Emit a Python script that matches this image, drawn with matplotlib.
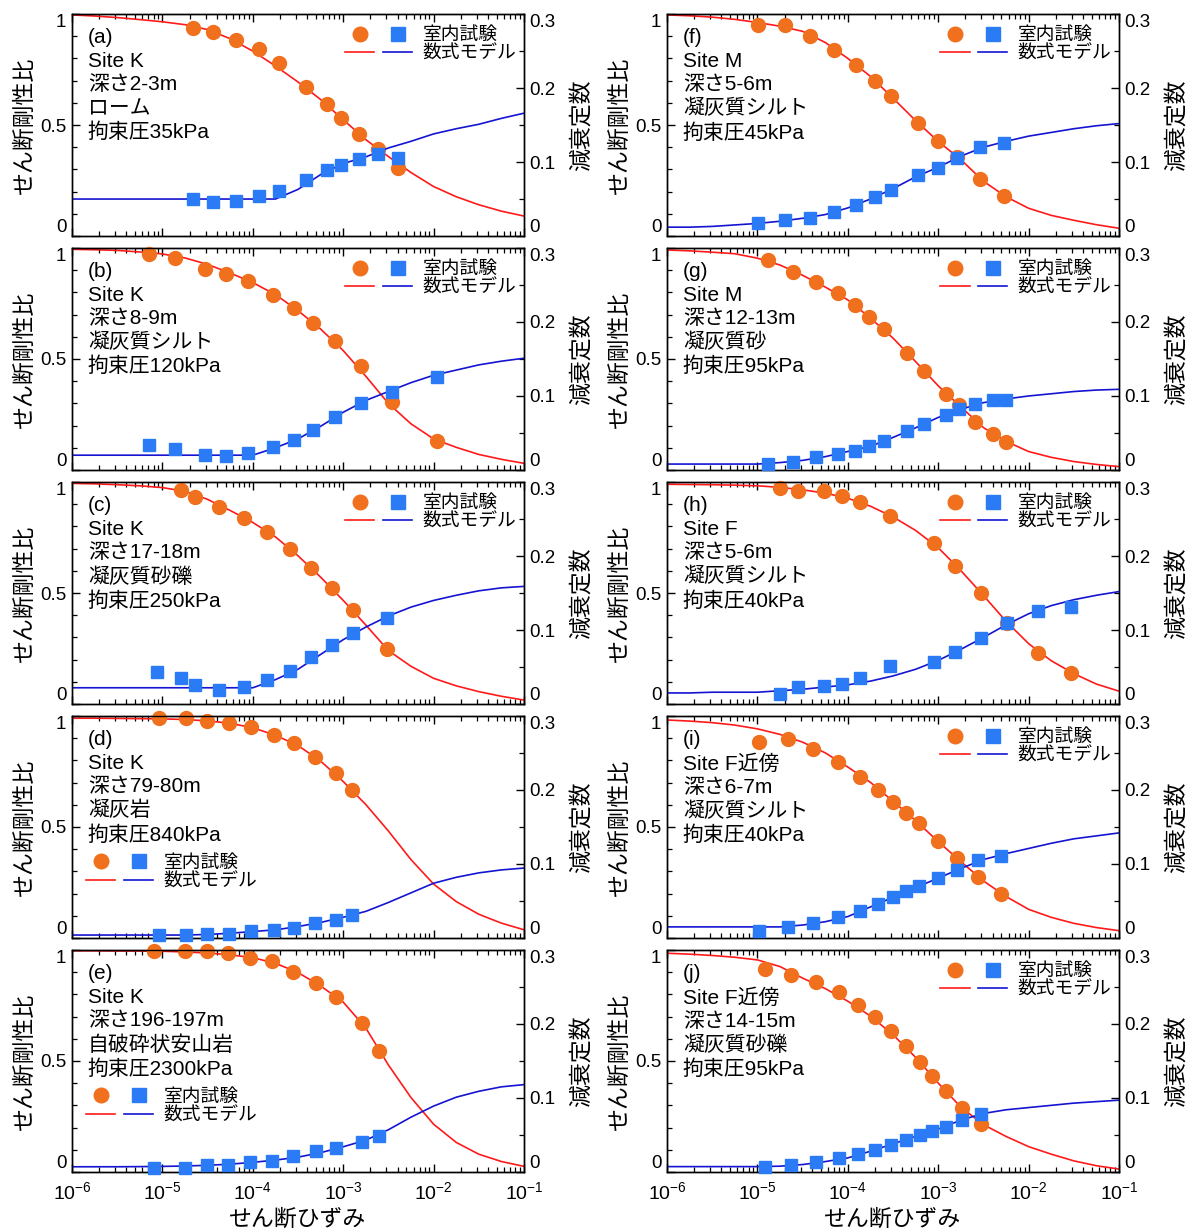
import numpy as np
import matplotlib
matplotlib.use("Agg")
import matplotlib.pyplot as plt
from matplotlib.lines import Line2D
from matplotlib.legend_handler import HandlerTuple
from matplotlib.ticker import LogLocator, MultipleLocator, NullFormatter

plt.rcParams.update({
    "font.family": ["Liberation Sans", "Noto Sans CJK JP"],
    "mathtext.default": "regular",
    "axes.linewidth": 1.0,
})

# strain grid used for the fitted model curves
model_strain = [1.0e-6, 1.78e-6, 3.16e-6, 5.62e-6, 1.0e-5, 1.78e-5, 3.16e-5, 5.62e-5,
                1.0e-4, 1.78e-4, 3.16e-4, 5.62e-4, 1.0e-3, 1.78e-3, 3.16e-3, 5.62e-3,
                1.0e-2, 1.78e-2, 3.16e-2, 5.62e-2, 1.0e-1]

# (a) Site K 2-3m
a_strain = [2.16e-5, 3.62e-5, 6.44e-5, 1.17e-4, 1.96e-4, 3.85e-4, 6.58e-4, 9.44e-4, 1.51e-3, 2.40e-3, 4.00e-3]
a_ratio = [0.939, 0.920, 0.885, 0.841, 0.778, 0.670, 0.593, 0.533, 0.458, 0.392, 0.308]
a_damp = [0.050, 0.046, 0.048, 0.054, 0.061, 0.076, 0.089, 0.096, 0.104, 0.111, 0.105]
a_fit_ratio = [0.996, 0.991, 0.984, 0.975, 0.965, 0.952, 0.930, 0.889, 0.833, 0.766, 0.694,
               0.615, 0.524, 0.434, 0.358, 0.286, 0.223, 0.177, 0.141, 0.112, 0.090]
a_fit_damp = [0.050, 0.050, 0.050, 0.050, 0.050, 0.050, 0.050, 0.050, 0.050, 0.050, 0.063,
              0.083, 0.098, 0.107, 0.119, 0.128, 0.138, 0.145, 0.151, 0.159, 0.166]

# (b) Site K 8-9m
b_strain = [7.03e-6, 1.37e-5, 2.95e-5, 5.11e-5, 8.89e-5, 1.68e-4, 2.87e-4, 4.67e-4, 8.07e-4, 1.57e-3, 3.45e-3, 1.09e-2]
b_ratio = [0.973, 0.953, 0.904, 0.881, 0.849, 0.788, 0.728, 0.663, 0.583, 0.468, 0.308, 0.132]
b_damp = [0.034, 0.028, 0.020, 0.019, 0.023, 0.031, 0.041, 0.054, 0.072, 0.091, 0.106, 0.125]
b_fit_ratio = [0.994, 0.992, 0.989, 0.982, 0.973, 0.955, 0.926, 0.887, 0.844, 0.790, 0.718,
               0.635, 0.538, 0.422, 0.300, 0.208, 0.140, 0.102, 0.070, 0.048, 0.030]
b_fit_damp = [0.020, 0.020, 0.020, 0.020, 0.020, 0.020, 0.020, 0.020, 0.020, 0.030, 0.042,
              0.059, 0.078, 0.094, 0.106, 0.118, 0.128, 0.135, 0.142, 0.147, 0.151]

# (c) Site K 17-18m
c_strain_ratio = [1.61e-5, 2.27e-5, 4.28e-5, 8.07e-5, 1.45e-4, 2.55e-4, 4.45e-4, 7.46e-4, 1.28e-3, 3.07e-3]
c_strain_damp = [8.81e-6, 1.61e-5, 2.27e-5, 4.28e-5, 8.07e-5, 1.45e-4, 2.55e-4, 4.45e-4, 7.46e-4, 1.28e-3, 3.07e-3]
c_ratio = [0.964, 0.934, 0.889, 0.840, 0.777, 0.698, 0.614, 0.521, 0.424, 0.246]
c_damp = [0.043, 0.035, 0.026, 0.019, 0.023, 0.032, 0.044, 0.063, 0.080, 0.096, 0.116]
c_fit_ratio = [0.994, 0.992, 0.988, 0.983, 0.975, 0.958, 0.922, 0.872, 0.818, 0.753, 0.668,
               0.572, 0.467, 0.356, 0.241, 0.170, 0.116, 0.082, 0.056, 0.035, 0.018]
c_fit_damp = [0.022, 0.022, 0.022, 0.022, 0.022, 0.022, 0.022, 0.022, 0.022, 0.033, 0.047,
              0.067, 0.087, 0.104, 0.119, 0.131, 0.140, 0.147, 0.153, 0.157, 0.159]

# (d) Site K 79-80m
d_strain = [9.25e-6, 1.81e-5, 3.10e-5, 5.46e-5, 9.44e-5, 1.73e-4, 2.87e-4, 4.91e-4, 8.22e-4, 1.24e-3]
d_ratio = [0.990, 0.990, 0.979, 0.967, 0.949, 0.915, 0.877, 0.814, 0.745, 0.667]
d_damp = [0.004, 0.004, 0.005, 0.006, 0.009, 0.011, 0.014, 0.020, 0.024, 0.031]
d_fit_ratio = [0.990, 0.990, 0.989, 0.988, 0.987, 0.984, 0.978, 0.967, 0.947, 0.913, 0.867,
               0.797, 0.705, 0.601, 0.482, 0.353, 0.243, 0.164, 0.107, 0.067, 0.037]
d_fit_damp = [0.004, 0.004, 0.004, 0.004, 0.004, 0.004, 0.0048, 0.0064, 0.0088, 0.011, 0.0155,
              0.021, 0.028, 0.036, 0.048, 0.061, 0.074, 0.082, 0.088, 0.092, 0.0945]

# (e) Site K 196-197m
e_strain = [8.0e-6, 1.78e-5, 3.13e-5, 5.31e-5, 9.33e-5, 1.64e-4, 2.81e-4, 4.95e-4, 8.39e-4, 1.60e-3, 2.48e-3]
e_ratio = [0.995, 0.995, 0.995, 0.985, 0.965, 0.950, 0.902, 0.850, 0.790, 0.670, 0.545]
e_damp = [0.006, 0.006, 0.009, 0.010, 0.013, 0.015, 0.021, 0.028, 0.032, 0.040, 0.049]
e_fit_ratio = [0.996, 0.996, 0.995, 0.995, 0.994, 0.991, 0.986, 0.978, 0.965, 0.940, 0.898,
               0.838, 0.765, 0.648, 0.482, 0.335, 0.215, 0.133, 0.080, 0.047, 0.025]
e_fit_damp = [0.007, 0.007, 0.007, 0.0072, 0.0075, 0.008, 0.009, 0.0105, 0.013, 0.016, 0.020,
              0.026, 0.034, 0.043, 0.057, 0.074, 0.089, 0.101, 0.109, 0.115, 0.118]

# (f) Site M 5-6m
f_strain = [1.01e-5, 2.03e-5, 3.85e-5, 7.05e-5, 1.24e-4, 2.01e-4, 2.97e-4, 5.97e-4, 9.91e-4, 1.61e-3, 2.88e-3, 5.32e-3]
f_ratio = [0.950, 0.950, 0.901, 0.838, 0.771, 0.700, 0.631, 0.511, 0.428, 0.357, 0.257, 0.182]
f_damp = [0.017, 0.021, 0.025, 0.033, 0.042, 0.053, 0.062, 0.082, 0.092, 0.106, 0.120, 0.126]
f_fit_ratio = [0.996, 0.992, 0.986, 0.976, 0.962, 0.945, 0.922, 0.872, 0.800, 0.719, 0.621,
               0.520, 0.426, 0.344, 0.247, 0.177, 0.125, 0.093, 0.071, 0.051, 0.035]
f_fit_damp = [0.012, 0.012, 0.013, 0.015, 0.017, 0.020, 0.024, 0.029, 0.038, 0.050, 0.064,
              0.080, 0.093, 0.108, 0.120, 0.128, 0.135, 0.140, 0.145, 0.149, 0.152]

# (g) Site M 12-13m
g_strain = [1.30e-5, 2.50e-5, 4.50e-5, 7.76e-5, 1.19e-4, 1.73e-4, 2.53e-4, 4.54e-4, 7.03e-4,
            1.22e-3, 1.69e-3, 2.53e-3, 4.00e-3, 5.68e-3]
g_ratio = [0.946, 0.893, 0.846, 0.795, 0.743, 0.688, 0.634, 0.528, 0.448, 0.342, 0.293, 0.218, 0.162, 0.128]
g_damp = [0.008, 0.011, 0.017, 0.022, 0.026, 0.032, 0.039, 0.053, 0.062, 0.074, 0.082, 0.089, 0.094, 0.094]
g_fit_ratio = [0.991, 0.987, 0.981, 0.974, 0.954, 0.923, 0.877, 0.824, 0.766, 0.684, 0.594,
               0.488, 0.379, 0.284, 0.191, 0.129, 0.083, 0.057, 0.038, 0.025, 0.015]
g_fit_damp = [0.008, 0.008, 0.008, 0.008, 0.008, 0.010, 0.013, 0.018, 0.025, 0.032, 0.044,
              0.057, 0.071, 0.082, 0.091, 0.096, 0.100, 0.103, 0.106, 0.108, 0.109]

# (h) Site F 5-6m
h_strain = [1.76e-5, 2.84e-5, 5.46e-5, 8.55e-5, 1.35e-4, 2.92e-4, 8.89e-4, 1.55e-3, 2.99e-3, 5.79e-3, 1.26e-2, 2.95e-2]
h_ratio = [0.974, 0.960, 0.960, 0.938, 0.911, 0.848, 0.724, 0.623, 0.498, 0.367, 0.232, 0.142]
h_damp = [0.014, 0.023, 0.025, 0.027, 0.035, 0.051, 0.057, 0.071, 0.089, 0.109, 0.126, 0.131]
h_fit_ratio = [0.990, 0.989, 0.988, 0.986, 0.983, 0.976, 0.965, 0.950, 0.927, 0.891, 0.843,
               0.782, 0.704, 0.601, 0.489, 0.373, 0.272, 0.195, 0.137, 0.090, 0.058]
h_fit_damp = [0.015, 0.015, 0.016, 0.016, 0.016, 0.018, 0.020, 0.023, 0.026, 0.031, 0.038,
              0.047, 0.059, 0.074, 0.090, 0.107, 0.122, 0.133, 0.141, 0.147, 0.152]

# (i) near Site F 6-7m
i_strain = [1.04e-5, 2.16e-5, 4.16e-5, 7.83e-5, 1.38e-4, 2.14e-4, 3.16e-4, 4.45e-4, 6.14e-4,
            9.82e-4, 1.60e-3, 2.76e-3, 4.95e-3]
i_ratio = [0.885, 0.895, 0.850, 0.791, 0.727, 0.667, 0.614, 0.565, 0.516, 0.437, 0.362, 0.273, 0.199]
i_damp = [0.009, 0.015, 0.020, 0.028, 0.037, 0.046, 0.055, 0.063, 0.070, 0.081, 0.092, 0.105, 0.111]
i_fit_ratio = [0.982, 0.977, 0.970, 0.959, 0.942, 0.917, 0.882, 0.834, 0.770, 0.701, 0.616,
               0.529, 0.434, 0.344, 0.257, 0.187, 0.129, 0.093, 0.066, 0.047, 0.033]
i_fit_damp = [0.015, 0.015, 0.015, 0.015, 0.015, 0.015, 0.0175, 0.022, 0.029, 0.042, 0.055,
              0.068, 0.081, 0.094, 0.106, 0.114, 0.121, 0.128, 0.134, 0.138, 0.142]

# (j) near Site F 14-15m
j_strain = [1.21e-5, 2.35e-5, 4.43e-5, 7.93e-5, 1.31e-4, 2.01e-4, 3.00e-4, 4.43e-4, 6.21e-4,
            8.47e-4, 1.21e-3, 1.81e-3, 2.94e-3]
j_ratio = [0.913, 0.887, 0.854, 0.809, 0.752, 0.700, 0.635, 0.569, 0.497, 0.432, 0.366, 0.290, 0.215]
j_damp = [0.007, 0.009, 0.013, 0.019, 0.024, 0.030, 0.037, 0.043, 0.050, 0.055, 0.061, 0.070, 0.078]
j_fit_ratio = [0.985, 0.981, 0.975, 0.967, 0.955, 0.925, 0.873, 0.826, 0.769, 0.702, 0.618,
               0.516, 0.400, 0.292, 0.213, 0.160, 0.114, 0.080, 0.050, 0.028, 0.013]
j_fit_damp = [0.0072, 0.0072, 0.0072, 0.0072, 0.0072, 0.0078, 0.010, 0.014, 0.019, 0.028, 0.038,
              0.048, 0.058, 0.070, 0.079, 0.084, 0.087, 0.090, 0.093, 0.095, 0.097]

panel_notes = {
    "a": "Site K\n深さ2-3m\nローム\n拘束圧35kPa",
    "b": "Site K\n深さ8-9m\n凝灰質シルト\n拘束圧120kPa",
    "c": "Site K\n深さ17-18m\n凝灰質砂礫\n拘束圧250kPa",
    "d": "Site K\n深さ79-80m\n凝灰岩\n拘束圧840kPa",
    "e": "Site K\n深さ196-197m\n自破砕状安山岩\n拘束圧2300kPa",
    "f": "Site M\n深さ5-6m\n凝灰質シルト\n拘束圧45kPa",
    "g": "Site M\n深さ12-13m\n凝灰質砂\n拘束圧95kPa",
    "h": "Site F\n深さ5-6m\n凝灰質シルト\n拘束圧40kPa",
    "i": "Site F近傍\n深さ6-7m\n凝灰質シルト\n拘束圧40kPa",
    "j": "Site F近傍\n深さ14-15m\n凝灰質砂礫\n拘束圧95kPa",
}

panels = [
    ("a", a_strain, a_ratio, a_strain, a_damp, a_fit_ratio, a_fit_damp),
    ("b", b_strain, b_ratio, b_strain, b_damp, b_fit_ratio, b_fit_damp),
    ("c", c_strain_ratio, c_ratio, c_strain_damp, c_damp, c_fit_ratio, c_fit_damp),
    ("d", d_strain, d_ratio, d_strain, d_damp, d_fit_ratio, d_fit_damp),
    ("e", e_strain, e_ratio, e_strain, e_damp, e_fit_ratio, e_fit_damp),
    ("f", f_strain, f_ratio, f_strain, f_damp, f_fit_ratio, f_fit_damp),
    ("g", g_strain, g_ratio, g_strain, g_damp, g_fit_ratio, g_fit_damp),
    ("h", h_strain, h_ratio, h_strain, h_damp, h_fit_ratio, h_fit_damp),
    ("i", i_strain, i_ratio, i_strain, i_damp, i_fit_ratio, i_fit_damp),
    ("j", j_strain, j_ratio, j_strain, j_damp, j_fit_ratio, j_fit_damp),
]

ORANGE = "#F0701E"
SQUARE_BLUE = "#2A7BF5"
RED = "#FF1A1A"
BLUE = "#1414D2"

fig = plt.figure(figsize=(11.92, 12.30), dpi=100)
col_left = [0.0604, 0.5596]
row_bottom = [0.8081, 0.6179, 0.4276, 0.2374, 0.0472]
ax_w, ax_h = 0.3792, 0.1805

legend_handles = [
    (Line2D([], [], ls="none", marker="o", ms=10.5, color=ORANGE),
     Line2D([], [], ls="none", marker="s", ms=9.5, color=SQUARE_BLUE)),
    (Line2D([], [], color=RED, lw=1.2), Line2D([], [], color=BLUE, lw=1.2)),
]

for idx, (key, xs_r, ratio, xs_d, damp, fit_r, fit_d) in enumerate(panels):
    col, row = divmod(idx, 5)
    ax = fig.add_axes([col_left[col], row_bottom[row], ax_w, ax_h])
    ax2 = ax.twinx()

    ax.plot(model_strain, fit_r, color=RED, lw=1.2, zorder=2)
    ax.plot(xs_r, ratio, ls="none", marker="o", ms=10, color=ORANGE, zorder=3, clip_on=False)
    ax2.plot(model_strain, fit_d, color=BLUE, lw=1.2, zorder=2)
    ax2.plot(xs_d, damp, ls="none", marker="s", ms=9, color=SQUARE_BLUE, zorder=3, clip_on=False)

    ax.set_xscale("log")
    ax.set_xlim(1e-6, 1e-1)
    ax.set_ylim(0, 1)
    ax2.set_ylim(0, 0.3)

    ax.xaxis.set_major_locator(LogLocator(base=10, numticks=10))
    ax.xaxis.set_minor_locator(LogLocator(base=10, subs=np.arange(2, 10), numticks=10))
    ax.xaxis.set_minor_formatter(NullFormatter())
    ax.set_yticks([0, 0.5, 1])
    ax.set_yticklabels(["0", "0.5", "1"])
    ax.yaxis.set_minor_locator(MultipleLocator(0.1))
    ax2.set_yticks([0, 0.1, 0.2, 0.3])
    ax2.set_yticklabels(["0", "0.1", "0.2", "0.3"])
    ax2.yaxis.set_minor_locator(MultipleLocator(0.05))

    ax.tick_params(which="both", direction="in", top=True, right=False, labelsize=13.5, pad=4)
    ax.tick_params(axis="x", which="both", pad=7, labelsize=14)
    ax.tick_params(which="major", length=6, width=1.0)
    ax.tick_params(which="minor", length=3.5, width=0.9)
    ax2.tick_params(which="both", direction="in", labelsize=13.5, pad=4)
    ax2.tick_params(which="major", length=6, width=1.0)
    ax2.tick_params(which="minor", length=3.5, width=0.9)

    # keep end labels inside the panel so neighbouring panels don't collide
    for a in (ax, ax2):
        labels = a.get_yticklabels()
        labels[0].set_verticalalignment("bottom")
        labels[-1].set_verticalalignment("top")

    if row == 4:
        ax.set_xlabel("せん断ひずみ", fontsize=16.5, labelpad=3)
    else:
        ax.tick_params(labelbottom=False)

    ax.set_ylabel("せん断剛性比", fontsize=16.5, labelpad=3)
    ax2.set_ylabel("減衰定数", fontsize=16.5, labelpad=10)

    ax.text(0.035, 0.935, f"({key})\n" + panel_notes[key], transform=ax.transAxes,
            ha="left", va="top", fontsize=15, linespacing=1.3)

    if key in ("d", "e"):
        leg_kw = dict(loc="center left", bbox_to_anchor=(0.01, 0.295), borderaxespad=0.3)
    else:
        leg_kw = dict(loc="upper right", bbox_to_anchor=(1.0, 0.975), borderaxespad=0.2)
    ax2.legend(legend_handles, ["室内試験", "数式モデル"],
               handler_map={tuple: HandlerTuple(ndivide=None, pad=0.45)},
               frameon=False, fontsize=13.5, handlelength=3.6, handletextpad=0.55,
               labelspacing=0.08, borderpad=0.2, **leg_kw)

fig.savefig("out.png", dpi=100)
